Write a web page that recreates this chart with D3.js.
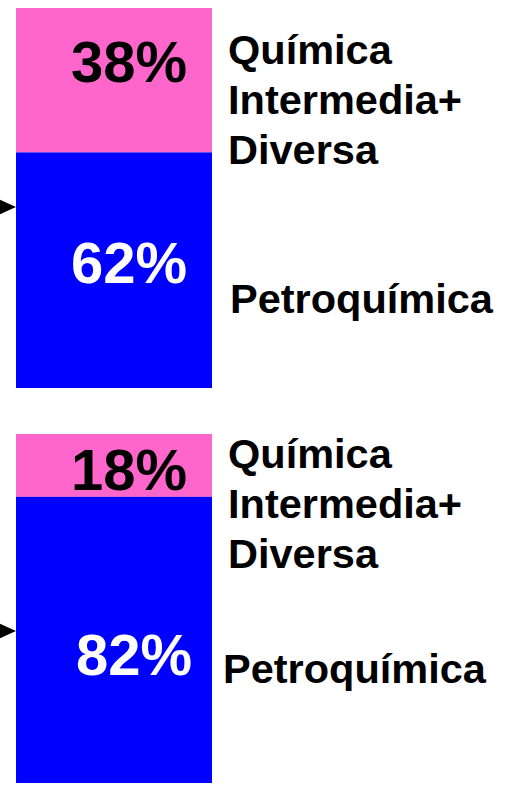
<!DOCTYPE html>
<html>
<head>
<meta charset="utf-8">
<script src="https://cdn.jsdelivr.net/npm/d3@7"></script>
<style>
  html, body { margin: 0; padding: 0; background: #fff; }
  text { font-family: "Liberation Sans", Arial, sans-serif; font-weight: bold; }
</style>
</head>
<body>
<div id="chart"></div>
<script>
// Data
var categories = ["Química Intermedia+ Diversa", "Petroquímica"];
var panelValues = [
  [38, 62],  // upper bar
  [18, 82]   // lower bar
];
var colors = ["#FF66CC", "#0000FF"];
var valueColors = ["#000000", "#FFFFFF"];

var width = 510, height = 785;

// layout of each panel (bar extents, label and arrow placement)
var panels = [
  {top: 8,   bottom: 388, valueX: [129, 129], valueY: [82, 283], labelX: [228, 230], labelY: [64, 313], arrowY: 207},
  {top: 434, bottom: 783, valueX: [129, 134], valueY: [490, 675], labelX: [228, 223], labelY: [468, 683], arrowY: 631}
];

var xScale = d3.scaleBand()
    .domain(["bar"])
    .range([16, 212])
    .padding(0);

var svg = d3.select("#chart").append("svg")
    .attr("width", width)
    .attr("height", height);

panels.forEach(function(p, pi) {
  var values = panelValues[pi];
  var yScale = d3.scaleLinear()
      .domain([0, 100])
      .range([p.top, p.bottom]);

  // stack from the top
  var stacked = [];
  var acc = 0;
  values.forEach(function(v, i) {
    stacked.push({cat: categories[i], v: v, y0: acc, y1: acc + v, i: i});
    acc += v;
  });

  var g = svg.append("g").attr("class", "panel");

  g.selectAll(".seg")
    .data(stacked)
    .enter().append("rect")
    .attr("class", "seg")
    .attr("x", xScale("bar"))
    .attr("width", xScale.bandwidth())
    .attr("y", function(d) { return yScale(d.y0); })
    .attr("height", function(d) { return yScale(d.y1) - yScale(d.y0); })
    .attr("fill", function(d) { return colors[d.i]; });

  // value labels
  g.selectAll(".val")
    .data(stacked)
    .enter().append("text")
    .attr("class", "val")
    .attr("x", function(d) { return p.valueX[d.i]; })
    .attr("y", function(d) { return p.valueY[d.i]; })
    .attr("text-anchor", "middle")
    .attr("font-size", 58)
    .attr("fill", function(d) { return valueColors[d.i]; })
    .text(function(d) { return d.v + "%"; });

  // category labels to the right
  g.selectAll(".lab")
    .data(stacked)
    .enter().append("text")
    .attr("class", "lab")
    .attr("x", function(d) { return p.labelX[d.i]; })
    .attr("y", function(d) { return p.labelY[d.i]; })
    .attr("font-size", 41.5)
    .attr("fill", "#000")
    .each(function(d) {
      var lines = d.cat === categories[0] ? ["Química", "Intermedia+", "Diversa"] : [d.cat];
      var t = d3.select(this);
      lines.forEach(function(l, li) {
        t.append("tspan")
          .attr("x", p.labelX[d.i])
          .attr("dy", li === 0 ? 0 : 50)
          .text(l);
      });
    });

  // arrowhead pointing into the bar
  var tip = xScale("bar");
  g.append("path")
    .attr("d", "M" + (tip - 22) + "," + (p.arrowY - 10) +
               "L" + tip + "," + p.arrowY +
               "L" + (tip - 22) + "," + (p.arrowY + 10) + "Z")
    .attr("fill", "#000");
});
</script>
</body>
</html>
